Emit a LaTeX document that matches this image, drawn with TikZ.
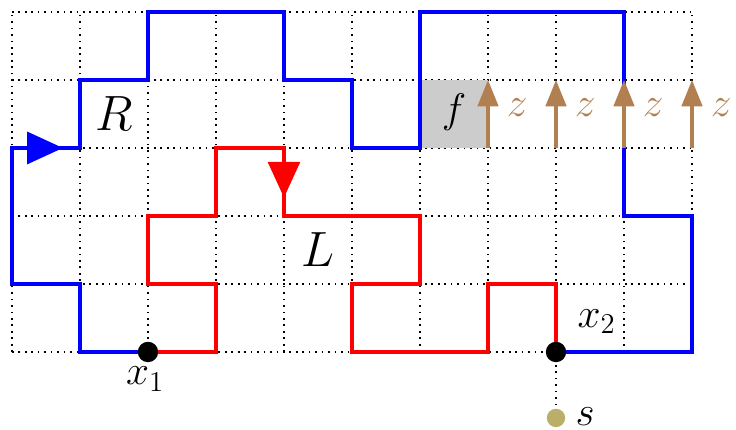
\documentclass[tikz,border=0pt]{standalone}
\usetikzlibrary{arrows.meta}
\definecolor{zbrown}{RGB}{178,128,80}
\definecolor{solive}{RGB}{185,175,105}
\definecolor{fgray}{RGB}{204,204,204}
\begin{document}
\begin{tikzpicture}[
  gridline/.style={dotted, line width=0.7pt},
  pathline/.style={line width=1.65pt},
  bigtxt/.style={font=\fontsize{21}{24}\selectfont, inner sep=0pt},
  smalltxt/.style={font=\fontsize{17.5}{20}\selectfont, inner sep=0pt},
  zarrow/.style={zbrown, line width=1.4pt, -{Triangle[length=11pt,width=8.5pt]}},
  midarrow/.style={pathline, -{Triangle[length=15pt,width=13.3pt]}},
  vertex/.style={circle, fill=black, inner sep=0pt, minimum size=0.3cm},
  source/.style={circle, fill=solive, inner sep=0pt, minimum size=0.27cm}
]
\useasboundingbox (-0.176,-1.147) rectangle (10.647,5.176);

% lattice
\draw[gridline] (0,0) grid (10,5);
\fill[fgray] (6,3) rectangle (7,4);

% endpoints and the source below
\coordinate (p1) at (2,0);
\coordinate (p2) at (8,0);
\node[source] (s) at (8,-0.97) {};
\draw[gridline] (p2) -- (s);

% outer contour R
\draw[blue, pathline] (p1) -| (1,1) -| (0,3) -| (1,4) -| (2,5) -| (4,4) -| (5,3)
  -| (6,5) -| (9,2) -| (10,0) -- (p2);
\draw[blue, midarrow] (0,3) -- (0.75,3);

% inner contour L
\draw[red, pathline] (p1) -| (3,1) -| (2,2) -| (3,3) -| (4,2) -| (6,1) -| (5,0)
  -| (7,1) -| (p2);
\draw[red, midarrow] (4,3) -- (4,2.27);

% z arrows
\foreach \x in {7,8,9,10} {
  \draw[zarrow] (\x,3) -- (\x,4);
  \node[smalltxt, text=zbrown] at (\x+0.43,3.59) {$z$};
}

% dots at the endpoints
\node[vertex] (x1) at (p1) {};
\node[vertex] (x2) at (p2) {};

% labels
\node[bigtxt] at (1.5,3.5) {$R$};
\node[bigtxt] at (4.5,1.5) {$L$};
\node[smalltxt] at (6.5,3.52) {$f$};
\node[smalltxt] at (1.96,-0.4) {$x_1$};
\node[smalltxt] at (8.6,0.45) {$x_2$};
\node[smalltxt] at (8.43,-0.95) {$s$};
\end{tikzpicture}
\end{document}
